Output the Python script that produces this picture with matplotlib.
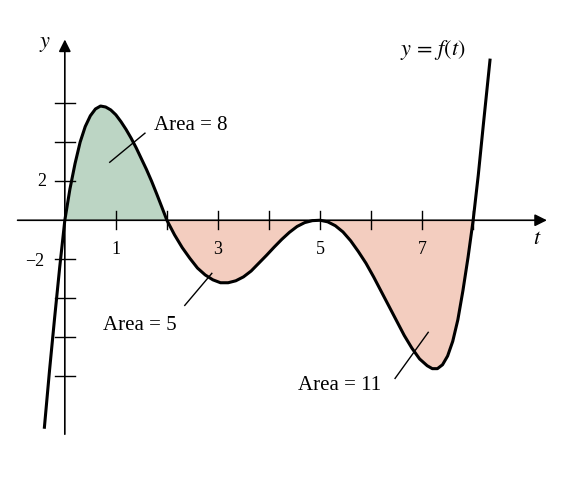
import numpy as np
import matplotlib
matplotlib.use('Agg')
import matplotlib.pyplot as plt

plt.rcParams['font.family'] = ['Liberation Serif', 'DejaVu Serif']
plt.rcParams['mathtext.fontset'] = 'stix'

# curve points
t_pts = [-0.4, -0.3, -0.2, -0.1, 0.0, 0.1, 0.2, 0.3, 0.4, 0.5, 0.6, 0.7, 0.8, 0.9,
         1.0, 1.1, 1.2, 1.3, 1.4, 1.5, 1.6, 1.7, 1.8, 1.9, 2.0,
         2.15, 2.3, 2.45, 2.6, 2.75, 2.9, 3.05, 3.2, 3.35, 3.5, 3.65, 3.8, 3.95,
         4.1, 4.25, 4.4, 4.55, 4.7, 4.85, 5.0, 5.15, 5.3, 5.45, 5.6, 5.75, 5.9,
         6.05, 6.2, 6.35, 6.5, 6.65, 6.8, 6.95, 7.1, 7.2, 7.3, 7.4, 7.5, 7.6,
         7.7, 7.8, 7.9, 8.0, 8.1, 8.2, 8.33]
y_pts = [-10.6, -7.7, -5.0, -2.4, 0.0, 1.6, 2.9, 4.0, 4.8, 5.35, 5.7, 5.85, 5.8, 5.65,
         5.4, 5.05, 4.65, 4.2, 3.7, 3.15, 2.6, 2.0, 1.35, 0.68, 0.0,
         -0.75, -1.4, -1.95, -2.45, -2.8, -3.05, -3.2, -3.2, -3.1, -2.9, -2.6, -2.2, -1.8,
         -1.38, -0.98, -0.62, -0.32, -0.12, -0.02, 0.0, -0.08, -0.28, -0.6, -1.05, -1.6, -2.2,
         -2.9, -3.65, -4.4, -5.15, -5.9, -6.55, -7.1, -7.45, -7.6, -7.6, -7.4, -6.95, -6.2,
         -5.1, -3.6, -1.9, 0.0, 2.3, 4.9, 8.2]
area_labels = ['Area = 8', 'Area = 5', 'Area = 11']
x_tick_labels = ['1', '3', '5', '7']
y_tick_labels = ['2', '\u22122']

t = np.array(t_pts)
y = np.array(y_pts)

fig = plt.figure(figsize=(5.64, 4.78), dpi=100)
ax = fig.add_axes([0, 0, 1, 1])
ax.set_xlim(-1.27, 9.78)
ax.set_ylim(-13.2, 11.28)
ax.axis('off')

# shaded regions
m = (t >= 0) & (t <= 8)
ax.fill_between(t[m], y[m], 0, where=y[m] >= 0, color='#bcd5c4', interpolate=True, lw=0)
ax.fill_between(t[m], y[m], 0, where=y[m] <= 0, color='#f3cdbf', interpolate=True, lw=0)

# axes with arrows
ax.annotate('', xy=(9.5, 0), xytext=(-0.98, 0),
            arrowprops=dict(arrowstyle='-|>', color='black', lw=1.2, mutation_scale=18))
ax.annotate('', xy=(0, 9.4), xytext=(0, -11.1),
            arrowprops=dict(arrowstyle='-|>', color='black', lw=1.2, mutation_scale=18))

# ticks
for k in range(1, 9):
    ax.plot([k, k], [-0.45, 0.45], color='black', lw=1)
for k in [-8, -6, -4, -2, 2, 4, 6]:
    ax.plot([-0.2, 0.2], [k, k], color='black', lw=1)
for k, lab in zip([1, 3, 5, 7], x_tick_labels):
    ax.text(k, -1.5, lab, ha='center', va='center', fontsize=13)
ax.text(-0.45, 2, y_tick_labels[0], ha='center', va='center', fontsize=13)
ax.text(-0.6, -2.1, y_tick_labels[1], ha='center', va='center', fontsize=13)

# curve
ax.plot(t, y, color='black', lw=2.2)

# labels
ax.text(-0.39, 9.0, '$y$', fontsize=16, ha='center', va='center')
ax.text(9.25, -1.0, '$t$', fontsize=16, ha='center', va='center')
ax.text(7.2, 8.7, '$y\\,=\\,f(t)$', fontsize=16, ha='center', va='center')

ax.text(1.75, 4.87, area_labels[0], fontsize=15, ha='left', va='center')
ax.plot([1.57, 0.88], [4.46, 2.97], color='black', lw=1)
ax.text(1.47, -5.4, area_labels[1], fontsize=15, ha='center', va='center')
ax.plot([2.35, 2.88], [-4.36, -2.72], color='black', lw=1)
ax.text(5.39, -8.46, area_labels[2], fontsize=15, ha='center', va='center')
ax.plot([6.47, 7.12], [-8.1, -5.74], color='black', lw=1)

fig.savefig('out.png', dpi=100)
